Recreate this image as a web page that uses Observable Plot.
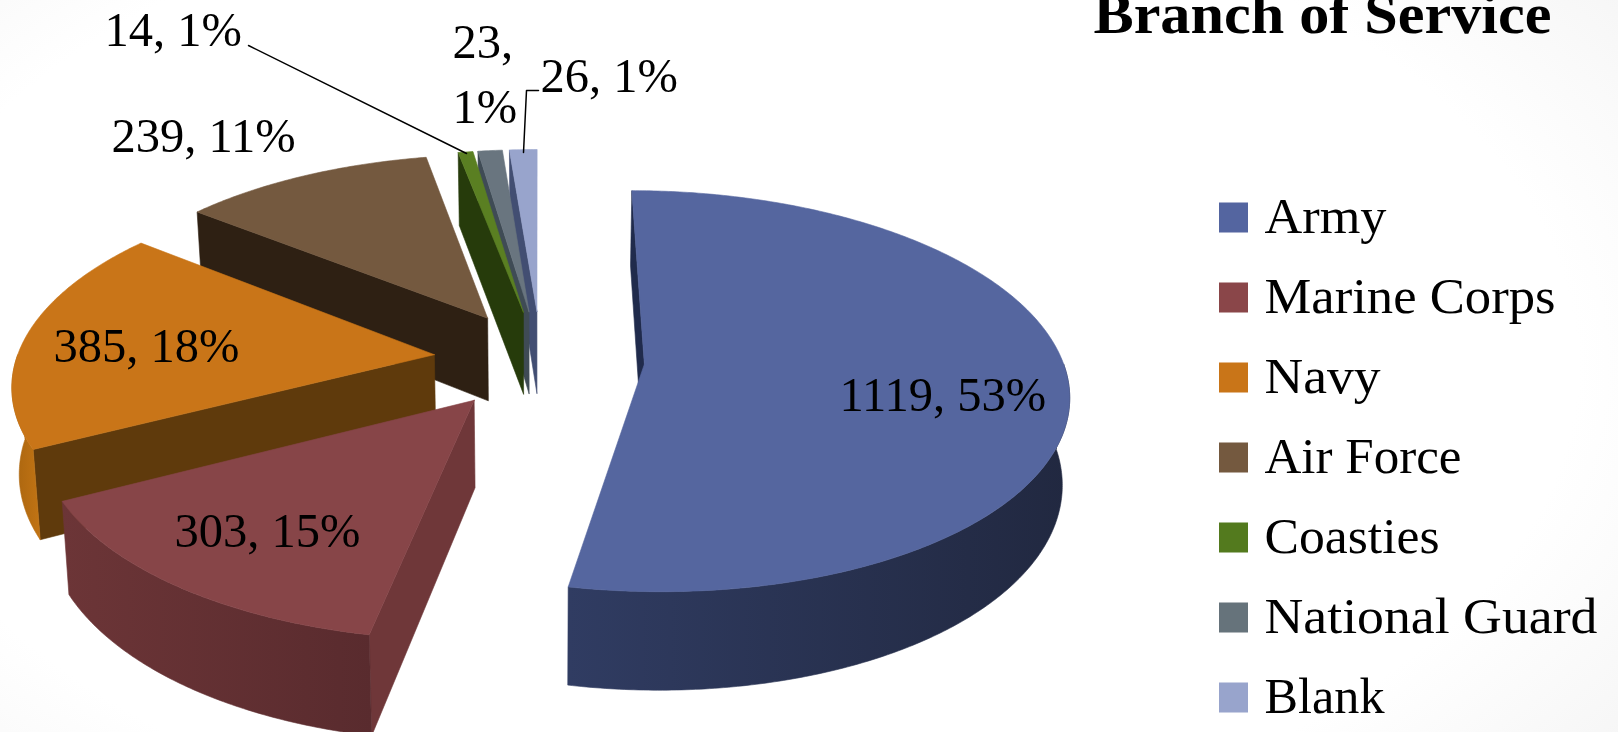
<!DOCTYPE html>
<html><head><meta charset="utf-8">
<script src="https://cdn.jsdelivr.net/npm/d3@7"></script>
<script src="https://cdn.jsdelivr.net/npm/@observablehq/plot@0.6"></script>
<style>html,body{margin:0;padding:0;background:#fff;overflow:hidden}</style>
</head><body><div id="chart"></div>
<script>
const categories = ["Army","Marine Corps","Navy","Air Force","Coasties","National Guard","Blank"];
const values = [1119,303,385,239,14,23,26];
const percents = [53,15,18,11,1,1,1];
const topColors = ["#55669f","#874548","#c97518","#74593f","#5a7f22","#69757f","#98a4cc"];
const legendColors = ["#5465a0","#8a4649","#c97518","#74593f","#537a1e","#66737b","#98a4cc"];
const cutColors = ["#202b4c","#6f3739","#5f3a0c","#2e2013","#263b0b","#3f4b55","#424e72"];
const outerStops = [["#303c62","#212840"],["#6c3537","#592b2e"],["#c27414","#a8640f"],["#2e2013","#2e2013"],["#263b0b","#263b0b"],["#3f4b55","#3f4b55"],["#424e72","#424e72"]];
const paintOrder = [6,5,4,3,2,1,0];
const labelText = ["1119, 53%","303, 15%","385, 18%","239, 11%","14, 1%","23,","1%","26, 1%"];
const labelX = [839,174,53,111,104,452,452,540];
const labelY = [410,546,361,151,45,57,122,91];
const leaderA = [[248,45],[466,153]];
const leaderB = [[538,90],[526,90],[523,152]];
const legendWidths = [122,291,116,197,175,333,120];
const sliceNudge = [0,1,1,2.5,2,2,2.5];

// 3-D pie geometry (perspective view of an exploded disc)
const cx=538, cy=359, R=418, E=106, K=0.00032, A=0.468, H=85, Q=0.986;
const total = d3.sum(values);
const ang = d3.cumsum(values).map(v=>v/total*2*Math.PI);
const slices = values.map((v,i)=>({i,a1:i?ang[i-1]:0,a2:ang[i]}));
function P(s,t,r,z){
  const m=(s.a1+s.a2)/2, Xw=E*Math.sin(m)+r*Math.sin(t)+sliceNudge[s.i], Yw=E*Math.cos(m)+r*Math.cos(t);
  const p=1/(1+K*Yw);
  return {x:cx+p*Xw*(z?Q:1), y:cy-A*Yw*p+(z?H*p:0)};
}
function arc(s,t1,t2,r,z){const n=Math.max(2,Math.ceil(Math.abs(t2-t1)/0.01));return d3.range(n+1).map(j=>P(s,t1+(t2-t1)*j/n,r,z));}
const poly=(pts,fill)=>Plot.line([...pts,pts[0]],{x:"x",y:"y",curve:"linear",fill,stroke:fill,strokeWidth:0.6});
const marks=[];
marks.push(()=>{
  const d=d3.create("svg:defs");
  outerStops.forEach((c,i)=>{
    const g=d.append("linearGradient").attr("id","outer"+i);
    g.append("stop").attr("offset","0%").attr("stop-color",i==2?c[1]:c[0]);
    g.append("stop").attr("offset","100%").attr("stop-color",i==2?c[0]:c[1]);
  });
  return d.node();
});
for(const i of paintOrder){
  const s=slices[i];
  marks.push(poly([P(s,s.a1,0,0),P(s,s.a1,R,0),P(s,s.a1,R,1),P(s,s.a1,0,1)],cutColors[i]));
  const lo=Math.max(s.a1,Math.PI/2), hi=Math.min(s.a2,Math.PI*1.5);
  if(hi>lo) marks.push(poly([...arc(s,lo,hi,R,0),...arc(s,hi,lo,R,1)],`url(#outer${i})`));
  marks.push(poly([P(s,s.a1,0,0),...arc(s,s.a1,s.a2,R,0)],topColors[i]));
}
marks.push(Plot.line(leaderA,{x:d=>d[0],y:d=>d[1],stroke:"#000",strokeWidth:1.5}));
marks.push(Plot.line(leaderB,{x:d=>d[0],y:d=>d[1],stroke:"#000",strokeWidth:1.5}));
const font="Liberation Serif";
marks.push(Plot.text(labelText,{x:(d,i)=>labelX[i],y:(d,i)=>labelY[i],text:d=>d,textAnchor:"start",lineAnchor:"bottom",fontSize:48.5,fontFamily:font,fill:"#000"}));
marks.push(Plot.text(["Branch of Service"],{x:[1093],y:[32],textAnchor:"start",lineAnchor:"bottom",fontSize:58,fontWeight:"bold",fontFamily:font,fill:"#000"}));
const legendIdx=categories.map((c,i)=>i);
marks.push(Plot.rect(legendIdx,{x1:()=>1219,x2:()=>1248,y1:i=>202.5+i*80,y2:i=>232.5+i*80,fill:i=>legendColors[i]}));
marks.push(Plot.text(legendIdx,{x:()=>1264,y:i=>232+i*80,text:i=>categories[i],textAnchor:"start",lineAnchor:"bottom",fontSize:50,fontFamily:font,fill:"#000"}));

const chart=Plot.plot({width:1618,height:732,margin:0,
  x:{domain:[0,1618],range:[0,1618],axis:null},
  y:{domain:[0,732],range:[0,732],axis:null},
  color:{type:"identity"},
  style:{background:"radial-gradient(ellipse 75% 95% at 45% 50%, #fff 70%, #ececec 115%)"},
  marks});
// Fit the substitute serif to the widths of the original typeface
const fitted=new Map([...categories.map((c,i)=>[c,legendWidths[i]]),["Branch of Service",458]]);
chart.querySelectorAll("text").forEach(t=>{
  const w=fitted.get(t.textContent);
  if(w){t.setAttribute("textLength",w);t.setAttribute("lengthAdjust","spacingAndGlyphs");}
});
document.getElementById("chart").append(chart);
</script></body></html>
